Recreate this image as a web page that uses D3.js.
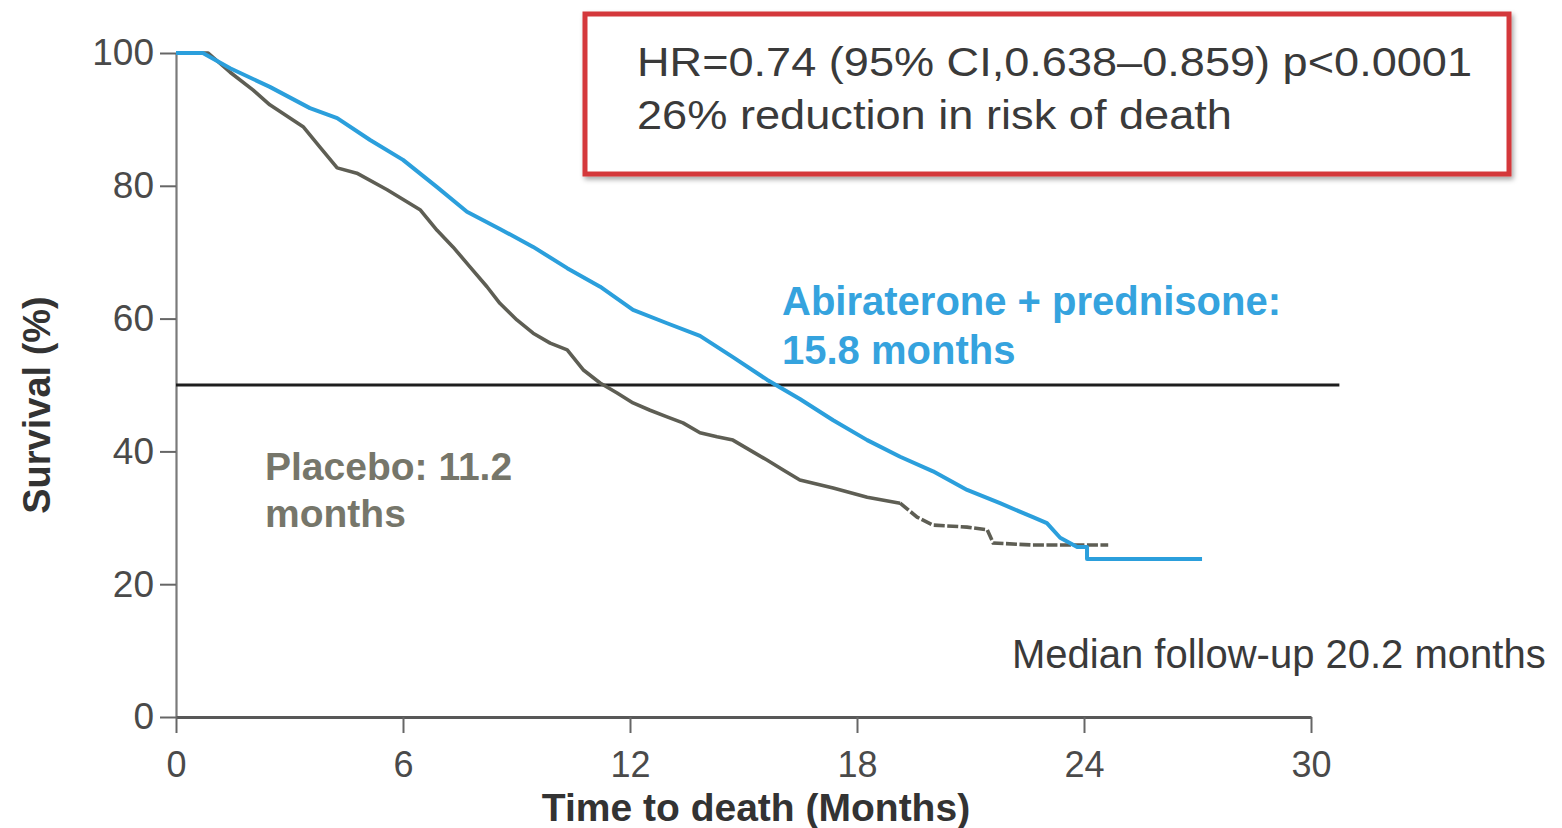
<!DOCTYPE html>
<html>
<head>
<meta charset="utf-8">
<script src="https://cdn.jsdelivr.net/npm/d3@7"></script>
<style>
  html, body { margin: 0; padding: 0; background: #fff; }
  svg { display: block; font-family: "Liberation Sans", Arial, Helvetica, sans-serif; }
</style>
</head>
<body>
<svg id="chart" width="1562" height="828"></svg>
<script>
// Kaplan–Meier overall survival, months vs % alive
const abiMonths = [0, 0.71, 1.43, 2.48, 3.54, 4.26, 5.13, 6.00, 6.90, 7.69, 8.56, 9.44, 10.34, 11.21, 12.08, 12.98, 13.85, 14.72, 15.62, 16.49, 17.37, 18.27, 19.14, 20.01, 20.91, 21.78, 22.65, 23.02, 23.37, 23.82, 24.08, 24.08, 27.12];
const abiSurvival = [100, 100, 97.7, 94.9, 91.7, 90.2, 86.9, 83.9, 79.8, 76.1, 73.5, 70.8, 67.6, 64.8, 61.3, 59.3, 57.4, 54.2, 50.8, 47.9, 44.7, 41.7, 39.2, 37.0, 34.2, 32.2, 30.1, 29.2, 27.0, 25.6, 25.6, 23.8, 23.8];

const placeboMonths = [0, 0.85, 1.43, 2.04, 2.48, 3.09, 3.36, 3.81, 4.26, 4.78, 5.58, 6.45, 6.90, 7.32, 7.77, 8.22, 8.56, 9.01, 9.44, 9.89, 10.34, 10.76, 11.21, 11.66, 12.08, 12.53, 12.98, 13.40, 13.85, 14.30, 14.72, 15.17, 15.62, 16.05, 16.49, 17.37, 18.27, 19.14, 19.59, 20.01, 20.91, 21.44, 21.60, 22.65, 24.64];
const placeboSurvival = [100, 100, 97.1, 94.4, 92.2, 89.9, 88.9, 85.8, 82.7, 81.9, 79.4, 76.4, 73.3, 70.8, 67.8, 64.8, 62.3, 59.8, 57.8, 56.3, 55.3, 52.3, 50.3, 48.8, 47.3, 46.2, 45.2, 44.3, 42.8, 42.2, 41.7, 40.2, 38.7, 37.2, 35.7, 34.5, 33.1, 32.2, 30.1, 28.9, 28.6, 28.2, 26.2, 25.9, 25.9];

const xTicks = [0, 6, 12, 18, 24, 30];
const yTicks = [0, 20, 40, 60, 80, 100];
const medianSurvival = 50;
const medianLineEnd = 30.75;
// beyond this month the placebo curve is dense with censor marks
const placeboDashFrom = 19.14;

const statsLines = ["HR=0.74 (95% CI,0.638\u20130.859) p<0.0001", "26% reduction in risk of death"];
const abiLabel = ["Abiraterone + prednisone:", "15.8 months"];
const placeboLabel = ["Placebo: 11.2", "months"];
const followUpLabel = "Median follow-up 20.2 months";

const svg = d3.select("#chart");

const x = d3.scaleLinear().domain([0, 30]).range([176, 1311]);
const y = d3.scaleLinear().domain([0, 100]).range([717, 53]);

// drop shadow for the statistics box
const defs = svg.append("defs");
const f = defs.append("filter").attr("id", "shadow").attr("x", "-5%").attr("y", "-10%").attr("width", "110%").attr("height", "130%");
f.append("feDropShadow").attr("dx", 2).attr("dy", 3).attr("stdDeviation", 2.5).attr("flood-color", "#000").attr("flood-opacity", 0.35);

// y axis
const yAxis = svg.append("g")
  .attr("transform", `translate(${x(0)},0)`)
  .call(d3.axisLeft(y).tickValues(yTicks).tickSize(16).tickSizeOuter(0).tickPadding(6));
yAxis.select(".domain").attr("stroke", "#7a7a7a").attr("stroke-width", 2.2);
yAxis.selectAll(".tick line").attr("stroke", "#666").attr("stroke-width", 2);
yAxis.selectAll(".tick text").attr("font-size", 37).attr("fill", "#4a4a4a")
  .attr("font-family", "'Liberation Sans', Arial, sans-serif");

// x axis
const xAxis = svg.append("g")
  .attr("transform", `translate(0,${y(0)})`)
  .call(d3.axisBottom(x).tickValues(xTicks).tickSize(16).tickSizeOuter(0).tickPadding(18));
xAxis.select(".domain").attr("stroke", "#585858").attr("stroke-width", 3.2);
xAxis.selectAll(".tick line").attr("stroke", "#666").attr("stroke-width", 2);
xAxis.selectAll(".tick text").attr("font-size", 36).attr("fill", "#4a4a4a")
  .attr("font-family", "'Liberation Sans', Arial, sans-serif");

// axis titles
svg.append("text")
  .attr("x", 756).attr("y", 821)
  .attr("text-anchor", "middle")
  .attr("font-size", 39).attr("font-weight", "bold").attr("fill", "#333")
  .text("Time to death (Months)");

svg.append("text")
  .attr("transform", `translate(50,${405}) rotate(-90)`)
  .attr("text-anchor", "middle")
  .attr("font-size", 38).attr("font-weight", "bold").attr("fill", "#333")
  .text("Survival (%)");

// median reference line
svg.append("line")
  .attr("x1", x(0)).attr("x2", x(medianLineEnd))
  .attr("y1", y(medianSurvival)).attr("y2", y(medianSurvival))
  .attr("stroke", "#1e1e1e").attr("stroke-width", 3);

const line = d3.line().x(d => x(d[0])).y(d => y(d[1])).curve(d3.curveLinear);

// placebo curve: solid body, dashed-looking censored tail
const placebo = placeboMonths.map((m, i) => [m, placeboSurvival[i]]);
const splitAt = placeboMonths.findIndex(m => m >= placeboDashFrom);
const placeboHead = placebo.slice(0, splitAt + 1);
const placeboTail = placebo.slice(splitAt);
svg.append("path").attr("d", line(placeboHead))
  .attr("fill", "none").attr("stroke", "#5e5e54").attr("stroke-width", 3.6).attr("stroke-linejoin", "round");
svg.append("path").attr("d", line(placeboTail))
  .attr("fill", "none").attr("stroke", "#5e5e54").attr("stroke-width", 3.6)
  .attr("stroke-dasharray", "11,2.5");

// abiraterone curve
const abi = abiMonths.map((m, i) => [m, abiSurvival[i]]);
svg.append("path").attr("d", line(abi))
  .attr("fill", "none").attr("stroke", "#2b9fdc").attr("stroke-width", 4).attr("stroke-linejoin", "round");

// series labels
const abiText = svg.append("text").attr("font-size", 40).attr("font-weight", "bold").attr("fill", "#35a3de");
abiLabel.forEach((t, i) => abiText.append("tspan").attr("x", 782).attr("y", 315 + i * 49).text(t));

const placeboText = svg.append("text").attr("font-size", 39).attr("font-weight", "bold").attr("fill", "#76766a");
placeboLabel.forEach((t, i) => placeboText.append("tspan").attr("x", 265).attr("y", 480 + i * 47).text(t));

svg.append("text")
  .attr("x", 1012).attr("y", 668)
  .attr("font-size", 40).attr("fill", "#3a3a3a")
  .text(followUpLabel);

// statistics box
svg.append("rect")
  .attr("x", 585).attr("y", 14).attr("width", 924).attr("height", 160)
  .attr("fill", "#fff").attr("stroke", "#d4383a").attr("stroke-width", 5)
  .attr("filter", "url(#shadow)");

const statLengths = [835, 595];
statsLines.forEach((t, i) => {
  svg.append("text")
    .attr("x", 637).attr("y", 76 + i * 53)
    .attr("font-size", 41).attr("fill", "#3a3a3a")
    .attr("textLength", statLengths[i]).attr("lengthAdjust", "spacingAndGlyphs")
    .text(t);
});
</script>
</body>
</html>
